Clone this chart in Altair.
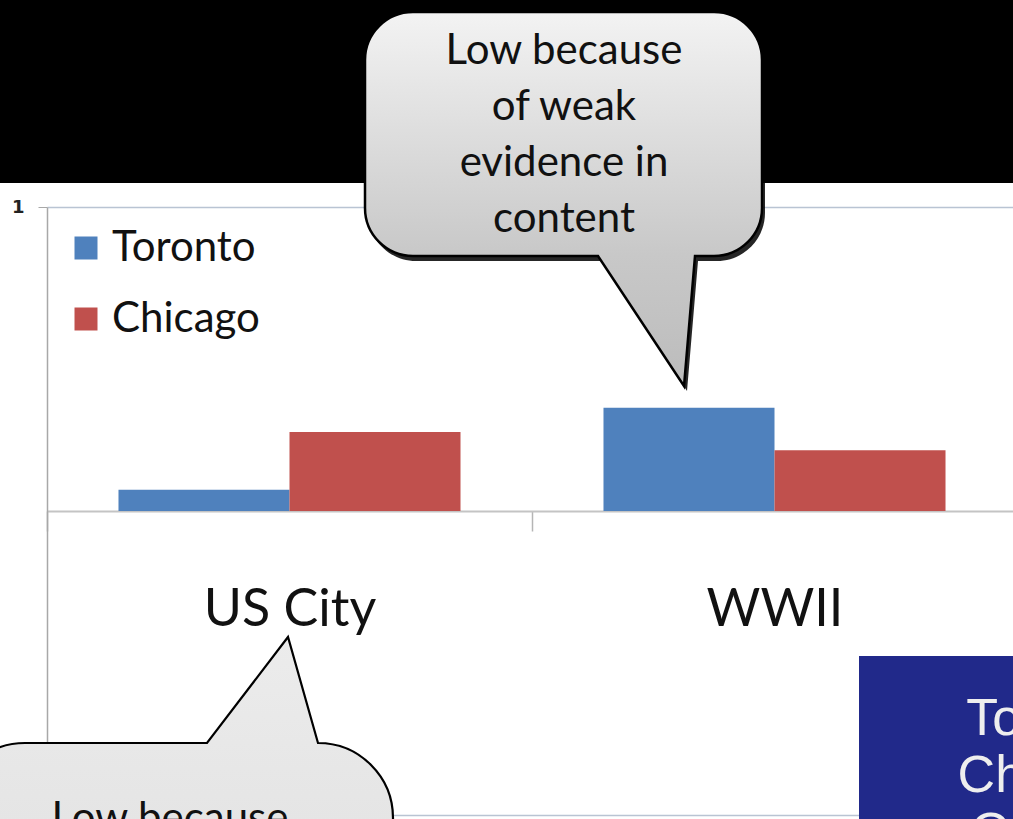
import altair as alt
import pandas as pd

# ---- chart values -------------------------------------------------------
categories = ["US City", "WWII"]
cities = ["Toronto", "Chicago"]
toronto = [0.07, 0.34]
chicago = [0.26, 0.20]
city_colors = ["#4f81bd", "#c0504d"]

top_note = ["Low because", "of weak", "evidence in", "content"]
bottom_note = ["Low because"]
side_panel = ["Toronto", "Chicago", "Overall"]

rows = []
for i, cat in enumerate(categories):
    rows.append({"category": cat, "city": "Toronto", "score": toronto[i]})
    rows.append({"category": cat, "city": "Chicago", "score": chicago[i]})
bars_df = pd.DataFrame(rows)

# ---- layout -------------------------------------------------------------
W, H = 966, 608          # plot area
LEFT, TOP = 47, 207      # plot origin on the page
FONT = "Lato"


def px(x):
    return alt.value(x - LEFT)


def py(y):
    return alt.value(y - TOP)


one = pd.DataFrame({"k": [0]})

# ---- grouped bars -------------------------------------------------------
bars = alt.Chart(bars_df).mark_bar().encode(
    x=alt.X(
        "category:N",
        sort=categories,
        scale=alt.Scale(range=[0, 970], paddingInner=0, paddingOuter=0),
        axis=alt.Axis(
            title=None, orient="bottom", offset=-H / 2, labelAngle=0,
            labelFont=FONT, labelFontSize=52, labelColor="#111111",
            labelPadding=53, tickBand="extent", tickSize=20,
            tickColor="#b5b5b5", tickWidth=1.5, domainColor="#c4c4c4",
            domainWidth=2, grid=False,
        ),
    ),
    xOffset=alt.XOffset(
        "city:N", sort=cities,
        scale=alt.Scale(domain=cities, paddingInner=0, paddingOuter=0.418),
    ),
    y=alt.Y(
        "score:Q",
        scale=alt.Scale(domain=[-1, 1], nice=False),
        axis=alt.Axis(
            title=None, values=[-1, 1], format="d", grid=True,
            gridColor="#b9c4d3", gridWidth=1.5, domainColor="#a8a8a8",
            domainWidth=1.5, tickColor="#a8a8a8", tickSize=9,
            labelFont="DejaVu Sans", labelFontSize=18, labelFontWeight="bold",
            labelColor="#222222", labelPadding=14,
        ),
    ),
    color=alt.Color(
        "city:N", sort=cities,
        scale=alt.Scale(domain=cities, range=city_colors),
        legend=alt.Legend(
            title=None, orient="none", legendX=18, legendY=20, padding=0,
            symbolType="square", symbolSize=529, symbolStrokeWidth=0,
            labelFont=FONT, labelFontSize=42, labelColor="#111111",
            labelOffset=5, rowPadding=29,
        ),
    ),
)

# ---- slide decorations --------------------------------------------------
band = alt.Chart(one).mark_rect(color="#000000").encode(
    x=px(0), x2=px(1013), y=py(0), y2=py(183)
)

top_bubble_path = (
    "M413,12 L714,12 A48,48 0 0 1 762,60 L762,208 A48,48 0 0 1 714,256 "
    "L695,256 L684,386 L598,256 L413,256 A48,48 0 0 1 365,208 L365,60 "
    "A48,48 0 0 1 413,12 Z"
)
bottom_bubble_path = (
    "M25,743 L207,743 L288,637 L318,743 A75,75 0 0 1 393,818 L393,900 "
    "L-50,900 L-50,818 A75,75 0 0 1 25,743 Z"
)

top_fill = alt.Gradient(
    gradient="linear", x1=0, x2=0, y1=0, y2=1,
    stops=[
        alt.GradientStop(color="#f3f3f3", offset=0),
        alt.GradientStop(color="#c8c8c8", offset=0.65),
        alt.GradientStop(color="#bcbcbc", offset=1),
    ],
)
bottom_fill = alt.Gradient(
    gradient="linear", x1=0, x2=0, y1=0, y2=1,
    stops=[
        alt.GradientStop(color="#ececec", offset=0),
        alt.GradientStop(color="#e2e2e2", offset=1),
    ],
)

top_shadow = alt.Chart(one).mark_point(
    shape=top_bubble_path, size=4, filled=True, fill="#000000",
    strokeWidth=0, opacity=0.85,
).encode(x=px(3), y=py(5))

top_bubble = alt.Chart(one).mark_point(
    shape=top_bubble_path, size=4, filled=True, fill=top_fill,
    stroke="#000000", strokeWidth=2.5, opacity=1,
).encode(x=px(0), y=py(0))

top_text = alt.Chart(one).mark_text(
    align="center", baseline="alphabetic", font=FONT, fontSize=42,
    lineHeight=56, color="#111111",
).encode(x=px(564), y=py(64), text=alt.value(top_note))

bottom_bubble = alt.Chart(one).mark_point(
    shape=bottom_bubble_path, size=4, filled=True, fill=bottom_fill,
    stroke="#000000", strokeWidth=2.2, opacity=1,
).encode(x=px(0), y=py(0))

bottom_text = alt.Chart(one).mark_text(
    align="center", baseline="alphabetic", font=FONT, fontSize=42,
    lineHeight=56, color="#111111",
).encode(x=px(170), y=py(832), text=alt.value(bottom_note))

panel = alt.Chart(one).mark_rect(color="#21298a").encode(
    x=px(859), x2=px(1013), y=py(656), y2=py(819)
)

panel_text = alt.Chart(one).mark_text(
    align="center", baseline="alphabetic", font="Liberation Sans",
    fontSize=52, lineHeight=57, color="#eeeeee",
).encode(x=px(1053), y=py(735), text=alt.value(side_panel))

chart = alt.layer(
    bars, band, top_shadow, top_bubble, top_text,
    bottom_bubble, bottom_text, panel, panel_text,
).properties(
    width=W, height=H, autosize="none", background="#ffffff",
    padding={"left": LEFT, "top": TOP, "right": 0, "bottom": 4},
).configure_view(strokeWidth=0)

chart.save("out.html", embed_options={"renderer": "svg", "actions": False})
